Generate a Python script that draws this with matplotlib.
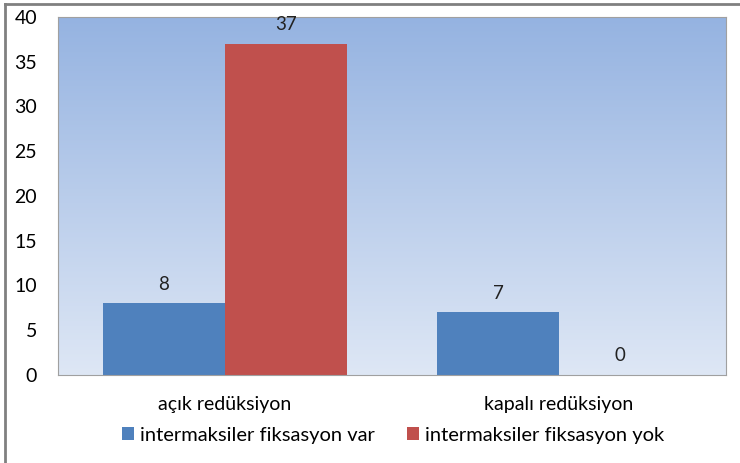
import numpy as np
import matplotlib
matplotlib.use('Agg')
from matplotlib import pyplot as plt
from matplotlib.lines import Line2D

plt.rcParams['font.family'] = ['Lato', 'DejaVu Sans']

categories = ['açık redüksiyon', 'kapalı redüksiyon']
series_names = ['intermaksiler fiksasyon var', 'intermaksiler fiksasyon yok']
var_values = [8, 7]
yok_values = [37, 0]
colors = ['#4f81bd', '#c0504d']

fig = plt.figure(figsize=(7.4, 4.63), dpi=100)
ax = fig.add_axes([58 / 740, 1 - 375 / 463, 668 / 740, 358 / 463])

# gradient background of plot area (dark at top, light at bottom)
grad = np.linspace(0, 1, 256).reshape(-1, 1)
top = np.array([149, 179, 225]) / 255
bottom = np.array([222, 231, 245]) / 255
img = top + (bottom - top) * grad[:, :, None] * np.ones((1, 1, 3))
ax.imshow(img, extent=[-0.5, 1.5, 0, 40], origin='upper', aspect='auto', zorder=0)

x = np.arange(len(categories))
w = 0.365
b1 = ax.bar(x - w / 2, var_values, w, color=colors[0], label=series_names[0], zorder=2)
b2 = ax.bar(x + w / 2, yok_values, w, color=colors[1], label=series_names[1], zorder=2)
for bars in (b1, b2):
    for r in bars:
        ax.text(r.get_x() + r.get_width() / 2, r.get_height() + 1.2, f'{int(r.get_height())}',
                ha='center', va='bottom', fontsize=13.5, color='#222222')

ax.set_xlim(-0.5, 1.5)
ax.set_ylim(0, 40)
ax.set_yticks(range(0, 41, 5))
ax.set_xticks(x)
ax.set_xticklabels(categories, fontsize=14)
ax.tick_params(axis='y', labelsize=14, length=0, pad=15)
ax.tick_params(axis='x', length=0, pad=15)
for s in ax.spines.values():
    s.set_color('#a0a0a0')
    s.set_linewidth(0.8)

fig.legend(handles=[b1, b2], loc='center', bbox_to_anchor=(393 / 740, 1 - 435 / 463),
           ncol=2, frameon=False, fontsize=14.5, handlelength=0.6, handleheight=0.6,
           handletextpad=0.3, columnspacing=1.6)

# outer border (left and top edges visible)
bx, by = 5 / 740, 1 - 4 / 463
fig.add_artist(Line2D([bx, bx], [0, by], transform=fig.transFigure, color='#808080', lw=2))
fig.add_artist(Line2D([bx, 1], [by, by], transform=fig.transFigure, color='#808080', lw=2))

fig.savefig('out.png', dpi=100)
